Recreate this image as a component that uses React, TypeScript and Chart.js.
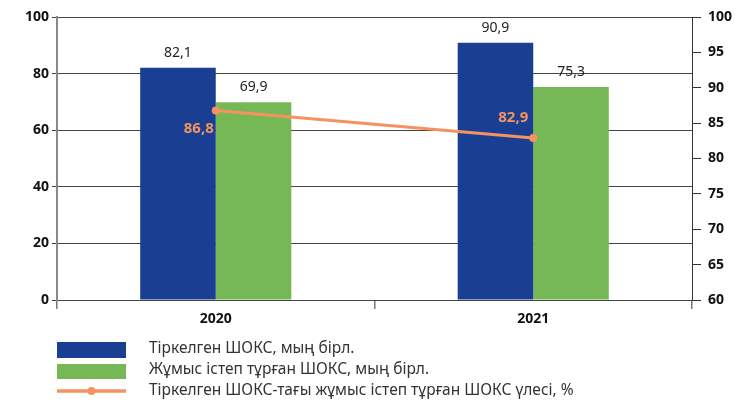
import React, { useEffect, useRef } from "react";
import { Chart, registerables } from "chart.js";

Chart.register(...registerables);

const categories = ["2020", "2021"];
const registeredSme = [82.1, 90.9];
const operatingSme = [69.9, 75.3];
const operatingShare = [86.8, 82.9];
const leftRange = [0, 100, 20];
const rightRange = [60, 100, 5];
const seriesNames = [
  "Тіркелген ШОКС, мың бірл.",
  "Жұмыс істеп тұрған ШОКС, мың бірл.",
  "Тіркелген ШОКС-тағы жұмыс істеп тұрған ШОКС үлесі, %",
];

const BLUE = "#1A3F92";
const GREEN = "#76B856";
const ORANGE = "#F4935F";
const FONT = "'Noto Sans', sans-serif";

const fmt = (v: number) => v.toFixed(1).replace(".", ",");

const labelsPlugin = {
  id: "valueLabels",
  afterDatasetsDraw(chart: any) {
    const ctx = chart.ctx;
    ctx.save();
    ctx.textBaseline = "middle";
    chart.data.datasets.forEach((ds: any, di: number) => {
      const meta = chart.getDatasetMeta(di);
      meta.data.forEach((el: any, i: number) => {
        const v = ds.data[i];
        if (ds.type === "line") {
          const offs = [
            { dx: -2, dy: 18 },
            { dx: -5, dy: -20 },
          ][i];
          ctx.font = `bold 15px ${FONT}`;
          ctx.fillStyle = ORANGE;
          ctx.textAlign = "right";
          ctx.fillText(fmt(v), el.x + offs.dx, el.y + offs.dy);
        } else {
          ctx.font = `14px ${FONT}`;
          ctx.fillStyle = "#222";
          ctx.textAlign = "center";
          ctx.fillText(fmt(v), el.x, el.y - 15);
        }
      });
    });
    ctx.restore();
  },
};

const legendPlugin = {
  id: "customLegend",
  afterDraw(chart: any) {
    const ctx = chart.ctx;
    ctx.save();
    const x0 = 57;
    const w = 69;
    const textX = 149;
    const rows = [
      { boxTop: 342, boxH: 16, textY: 349 },
      { boxTop: 364, boxH: 15, textY: 370 },
      { boxTop: 391, boxH: 0, textY: 391 },
    ];
    chart.data.datasets.forEach((ds: any, i: number) => {
      const r = rows[i];
      if (ds.type === "line") {
        ctx.strokeStyle = ds.borderColor;
        ctx.lineWidth = 3.5;
        ctx.beginPath();
        ctx.moveTo(x0, r.boxTop);
        ctx.lineTo(x0 + w, r.boxTop);
        ctx.stroke();
        ctx.fillStyle = ds.borderColor;
        ctx.beginPath();
        ctx.arc(x0 + w / 2, r.boxTop, 4, 0, Math.PI * 2);
        ctx.fill();
      } else {
        ctx.fillStyle = ds.backgroundColor;
        ctx.fillRect(x0, r.boxTop, w, r.boxH);
      }
      ctx.font = `15.5px ${FONT}`;
      ctx.fillStyle = "#333";
      ctx.textAlign = "left";
      ctx.textBaseline = "middle";
      ctx.fillText(ds.label, textX, r.textY);
    });
    ctx.restore();
  },
};

export default function App() {
  const ref = useRef<HTMLCanvasElement | null>(null);
  useEffect(() => {
    if (!ref.current) return;
    const chart = new Chart(ref.current, {
      type: "bar",
      data: {
        labels: categories,
        datasets: [
          {
            type: "bar",
            label: seriesNames[0],
            data: registeredSme,
            backgroundColor: BLUE,
            yAxisID: "y",
            order: 2,
            barPercentage: 1,
            categoryPercentage: 0.476,
          },
          {
            type: "bar",
            label: seriesNames[1],
            data: operatingSme,
            backgroundColor: GREEN,
            yAxisID: "y",
            order: 2,
            barPercentage: 1,
            categoryPercentage: 0.476,
          },
          {
            type: "line",
            label: seriesNames[2],
            data: operatingShare,
            borderColor: ORANGE,
            backgroundColor: ORANGE,
            borderWidth: 3,
            pointRadius: 4,
            pointBackgroundColor: ORANGE,
            pointBorderWidth: 0,
            yAxisID: "y1",
            order: 0,
          } as any,
        ],
      },
      options: {
        animation: false,
        responsive: false,
        maintainAspectRatio: false,
        layout: { padding: { top: 17, bottom: 74, left: 0, right: 0 } },
        plugins: {
          legend: { display: false },
          tooltip: { enabled: false },
        },
        scales: {
          x: {
            offset: true,
            grid: {
              offset: true,
              drawOnChartArea: false,
              tickLength: 9,
              color: "#777",
              lineWidth: 1.5,
            },
            border: { display: false },
            ticks: {
              font: { family: FONT, size: 14, weight: "bold" },
              color: "#111",
              padding: 2,
            },
            afterFit(scale: any) {
              scale.height = 30;
            },
          },
          y: {
            position: "left",
            min: leftRange[0],
            max: leftRange[1],
            ticks: {
              stepSize: leftRange[2],
              font: { family: FONT, size: 14, weight: "bold" },
              color: "#111",
              padding: 3,
            },
            grid: { color: "#444", lineWidth: 1, tickLength: 5 },
            border: { color: "#888", width: 2 },
            afterFit(scale: any) {
              scale.width = 57;
            },
          },
          y1: {
            position: "right",
            min: rightRange[0],
            max: rightRange[1],
            ticks: {
              stepSize: rightRange[2],
              font: { family: FONT, size: 14, weight: "bold" },
              color: "#111",
              padding: 7,
            },
            grid: { drawOnChartArea: false, tickLength: 9, color: "#333" },
            border: { color: "#333", width: 1 },
            afterFit(scale: any) {
              scale.width = 43;
            },
          },
        },
      } as any,
      plugins: [labelsPlugin, legendPlugin],
    });
    return () => chart.destroy();
  }, []);
  return (
    <div
      style={{
        position: "fixed",
        left: 0,
        top: 0,
        width: 735,
        height: 404,
        background: "#fff",
      }}
    >
      <canvas ref={ref} width={735} height={404} style={{ display: "block" }} />
    </div>
  );
}
